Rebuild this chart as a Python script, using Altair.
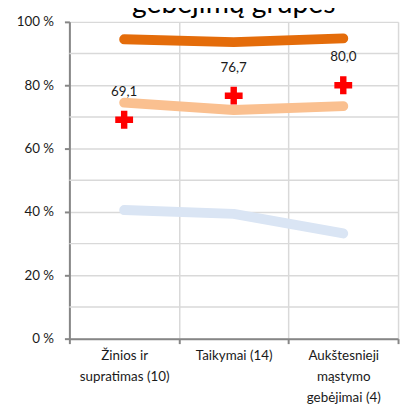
import altair as alt
import pandas as pd

title_text = "gebėjimų grupės"
categories = ["Žinios ir|supratimas (10)", "Taikymai (14)", "Aukštesnieji|mąstymo|gebėjimai (4)"]
series_names = ["aukstas", "vidutinis", "zemas"]
series_colors = ["#E46C0A", "#FAC090", "#DAE5F4"]
high_group = [94.5, 93.6, 94.8]
middle_group = [74.5, 72.2, 73.4]
low_group = [40.6, 39.4, 33.2]
student = [69.1, 76.7, 80.0]
minor_grid = [10, 30, 50, 70, 90]
y_ticks = [0, 20, 40, 60, 80, 100]

rows = []
for name, vals in zip(series_names, [high_group, middle_group, low_group]):
    for c, v in zip(categories, vals):
        rows.append({"series": name, "cat": c, "v": v})
lines_df = pd.DataFrame(rows)
pts_df = pd.DataFrame({"cat": categories, "v": student})
grid_df = pd.DataFrame({"v": minor_grid})
title_df = pd.DataFrame({"t": [title_text]})

FONT = "Lato"
x_enc = alt.X(
    "cat:N", sort=categories,
    scale=alt.Scale(paddingInner=0, paddingOuter=0),
    axis=alt.Axis(
        title=None, labelAngle=0, tickBand="extent",
        labelExpr="split(datum.label, '|')",
        labelFont=FONT, labelFontSize=13.5, labelColor="#1a1a1a",
        labelLineHeight=21, labelPadding=5,
        tickSize=5, tickColor="#868686", tickWidth=2,
        domainColor="#868686", domainWidth=2,
        grid=True, gridColor="#D9D9D9", gridWidth=1.5,
    ),
)
y_scale = alt.Scale(domain=[0, 100], nice=False)
y_enc = alt.Y(
    "v:Q", scale=y_scale,
    axis=alt.Axis(
        title=None, values=y_ticks, labelExpr="datum.value + ' %'",
        labelFont=FONT, labelFontSize=13.5, labelColor="#1a1a1a",
        labelPadding=11, tickSize=5, tickColor="#868686", tickWidth=2,
        domainColor="#868686", domainWidth=2,
        grid=True, gridColor="#D9D9D9", gridWidth=1.5,
    ),
)

grid = alt.Chart(grid_df).mark_rule(color="#D9D9D9", strokeWidth=1.5).encode(
    y=alt.Y("v:Q", scale=y_scale)
)

lines = alt.Chart(lines_df).mark_line(strokeWidth=10, strokeCap="round", strokeJoin="round").encode(
    x=x_enc, y=y_enc,
    color=alt.Color("series:N", scale=alt.Scale(domain=series_names, range=series_colors), legend=None),
    order=alt.Order("series:N"),
)

plus_shape = "M-0.36,-1H0.36V-0.36H1V0.36H0.36V1H-0.36V0.36H-1V-0.36H-0.36Z"
points = alt.Chart(pts_df).mark_point(shape=plus_shape, filled=True, color="#FF0000", size=324, opacity=1).encode(
    x=alt.X("cat:N", sort=categories), y=alt.Y("v:Q", scale=y_scale)
)

labels = alt.Chart(pts_df).transform_calculate(
    lab="replace(format(datum.v, '.1f'), '.', ',')"
).mark_text(dy=-28, fontSize=13.5, font=FONT, color="#1a1a1a").encode(
    x=alt.X("cat:N", sort=categories), y=alt.Y("v:Q", scale=y_scale), text="lab:N"
)

title = alt.Chart(title_df).mark_text(
    fontSize=28.5, font=FONT, align="center", baseline="alphabetic", color="#000000"
).encode(text="t:N", x=alt.value(166), y=alt.value(-9))

chart = alt.layer(grid, lines, points, labels, title).properties(
    width=332, height=320,
    padding={"left": 62, "top": 12, "right": 5, "bottom": 66},
    autosize=alt.AutoSizeParams(type="none"),
).configure_view(strokeWidth=0)

chart.save("out.html", embed_options={"renderer": "svg", "actions": False})
